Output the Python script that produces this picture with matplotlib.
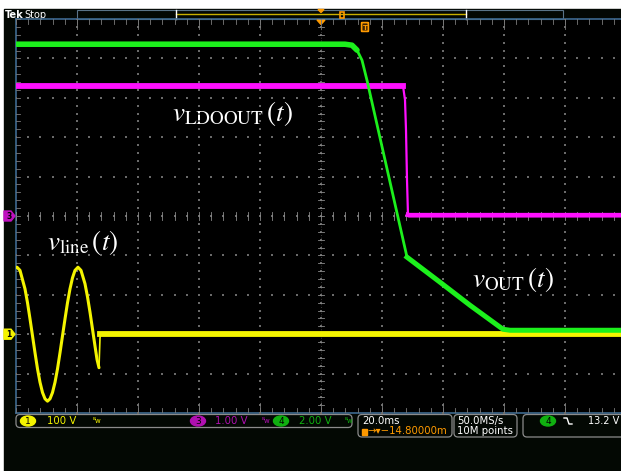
import matplotlib
matplotlib.use("Agg")
import matplotlib.pyplot as plt
from matplotlib.patches import Rectangle, FancyBboxPatch, Ellipse, Polygon
import numpy as np

plt.rcParams['mathtext.fontset'] = 'stix'

# ---------------- data ----------------
# time in ms relative to trigger, 20 ms/div, 10 divisions
t_sine = [-100.0, -99.67, -98.69, -97.05, -96.23, -95.41, -94.59, -93.77, -92.95, -92.13,
          -91.31, -90.49, -89.67, -88.85, -88.03, -87.21, -86.39, -85.57, -84.75, -83.93,
          -83.11, -82.30, -81.48, -80.66, -79.67, -78.69, -77.38, -76.56, -75.74, -74.92,
          -74.10, -73.44, -72.79]
v_sine = [169, 170, 162, 115, 80, 39, -4, -47, -88, -122,
          -148, -164, -170, -164, -148, -122, -88, -47, -4, 39,
          80, 115, 143, 162, 170, 162, 128, 95, 56, 13,
          -30, -64, -85]                  # volts, CH1 100 V/div
t_flat = [-72.79, -72.46, -72.30, 100.0]
v_flat = [-85, -10, 0, 0]

t_ldo = [-100.0, 26.89, 27.54, 27.87, 28.20, 28.52, 28.85, 100.0]
v_ldo = [3.30, 3.30, 2.95, 2.18, 0.91, 0.03, 0.02, 0.02]   # volts, CH3 1 V/div

t_out = [-100.0, 2.95, 7.87, 10.16, 11.80, 13.44, 15.08, 28.20, 39.02, 48.85, 59.67, 62.0, 100.0]
v_out = [14.72, 14.72, 14.72, 14.67, 14.42, 13.91, 12.89, 3.91, 2.64, 1.47, 0.25, 0.20, 0.20]  # volts, CH4 2 V/div

ch_scale = {'1': 100.0, '3': 1.0, '4': 2.0}     # V/div
ch_pos = {'1': -3.0, '3': 0.0, '4': -3.0}       # ground position, div
trig_level = 13.2                               # V on CH4

YEL = '#f4f400'
MAG = '#ff10ff'
GRN = '#1cf01c'
ORG = '#ff9a00'

W, H = 621, 471
fig = plt.figure(figsize=(W / 100, H / 100), dpi=100)
fig.patch.set_facecolor('white')

# ---------------- background / chrome axes (pixel coords) ----------------
bg = fig.add_axes([0, 0, 1, 1])
bg.set_xlim(0, W)
bg.set_ylim(H, 0)
bg.axis('off')
bg.add_patch(Rectangle((4, 9), W, H, color='#030803', zorder=0))
bg.add_patch(Rectangle((16, 19), 610, 394, color='black', zorder=0.5))

# top bar
bg.text(5, 14.5, 'Tek', color='white', fontsize=7, fontweight='bold', va='center', ha='left')
bg.text(24, 14.5, 'Stop', color='white', fontsize=7, va='center', ha='left')
bg.add_patch(Rectangle((77, 9.5), 486, 9.5, fill=False, ec='#5a7488', lw=0.8, zorder=2))
bg.plot([176, 466], [13.5, 13.5], color='#c8b000', lw=1.0, zorder=3)
bg.plot([176, 176], [9.5, 19], color='white', lw=1.0, zorder=3)
bg.plot([466, 466], [9.5, 19], color='white', lw=1.0, zorder=3)
bg.add_patch(Polygon([[318, 9.5], [324, 9.5], [321, 12.5]], color=ORG, zorder=4))
bg.add_patch(Rectangle((340, 12), 4, 6, fill=False, ec=ORG, lw=1.2, zorder=4))

# graticule border
bg.plot([16, W], [19, 19], color='#3e6a90', lw=1.2, zorder=3)
bg.plot([16, W], [413, 413], color='#3e6a90', lw=1.2, zorder=3)
bg.plot([16, 16], [19, 413], color='#3e6a90', lw=1.2, zorder=3)

# ---------------- data axes ----------------
ax = fig.add_axes([16 / W, (H - 413) / H, 610 / W, 394 / H])
ax.set_xlim(-100, 100)
ax.set_ylim(-5, 5)
ax.set_facecolor('none')
ax.axis('off')

# grid dots
gx, gy = [], []
for i in range(1, 10):
    xg = -100 + 20 * i
    for k in range(0, 51):
        gx.append(xg); gy.append(-5 + k * 0.2)
for j in range(1, 10):
    yg = -5 + j
    for k in range(0, 51):
        gx.append(-100 + k * 4); gy.append(yg)
ax.scatter(gx, gy, s=0.6, color='#6a6a6a', marker='s', linewidths=0, zorder=1)

# center-line ticks and border ticks
for k in range(0, 51):
    yk = -5 + k * 0.2
    ax.plot([-0.9, 0.9], [yk, yk], color='#8a8a8a', lw=0.6, zorder=1)
    ax.plot([-100, -98.6], [yk, yk], color='#7a7a7a', lw=0.6, zorder=1)
    xk = -100 + k * 4
    ax.plot([xk, xk], [-0.09, 0.09], color='#8a8a8a', lw=0.6, zorder=1)
    ax.plot([xk, xk], [4.88, 5], color='#7a7a7a', lw=0.6, zorder=1)
    ax.plot([xk, xk], [-5, -4.88], color='#7a7a7a', lw=0.6, zorder=1)
for i in range(1, 10):
    xg = -100 + 20 * i
    ax.plot([xg, xg], [4.75, 5], color='#7a7a7a', lw=0.6, zorder=1)
    ax.plot([xg, xg], [-5, -4.75], color='#7a7a7a', lw=0.6, zorder=1)
ax.plot([0, 0], [-5, 5], color='#707070', lw=0.5, ls=(0, (1, 3)), zorder=1)


def to_div(v, ch):
    return np.asarray(v, dtype=float) / ch_scale[ch] + ch_pos[ch]


# traces
ax.plot(t_sine, to_div(v_sine, '1'), color=YEL, lw=2.2, zorder=5,
        solid_joinstyle='round', solid_capstyle='round')
yf = to_div(v_flat, '1')
ax.plot(t_flat[:3], yf[:3], color=YEL, lw=1.2, zorder=5)
ax.plot(t_flat[2:], yf[2:], color=YEL, lw=4.2, zorder=5)

ym = to_div(v_ldo, '3')
ax.plot(t_ldo[:2], ym[:2], color=MAG, lw=4.2, zorder=4)
ax.plot(t_ldo[1:7], ym[1:7], color=MAG, lw=1.6, zorder=4)
ax.plot(t_ldo[5:], ym[5:], color=MAG, lw=3.4, zorder=4)

yo = to_div(v_out, '4')
ax.plot(t_out[:5], yo[:5], color=GRN, lw=4.0, zorder=6, solid_capstyle='round')
ax.plot(t_out[3:8], yo[3:8], color=GRN, lw=2.0, zorder=6, solid_joinstyle='round')
ax.plot(t_out[7:], yo[7:], color=GRN, lw=3.6, zorder=6, solid_joinstyle='round')

# trigger level marker (right edge, CH4)
yt = trig_level / ch_scale['4'] + ch_pos['4']
ax.scatter([99.6], [yt], s=18, marker='<', color=GRN, zorder=7, clip_on=False)

# trigger position markers
bg.add_patch(Polygon([[317, 20], [325, 20], [321, 24.5]], color=ORG, zorder=8))
bg.add_patch(FancyBboxPatch((362, 23), 6, 8, boxstyle='round,pad=0.4', fc='#3a2000', ec=ORG, lw=1.2, zorder=8))
bg.text(365, 27.5, 'T', color=ORG, fontsize=5, fontweight='bold', ha='center', va='center', zorder=9)

# left channel markers
def left_marker(yc, color, label):
    bg.add_patch(Polygon([[4, yc - 5], [11, yc - 5], [15, yc], [11, yc + 5], [4, yc + 5]],
                         color=color, zorder=8))
    bg.text(9, yc + 0.5, label, color='black', fontsize=5.5, fontweight='bold',
            ha='center', va='center', zorder=9)

left_marker(216 - ch_pos['3'] * 39.4, '#c010c0', '3')
left_marker(216 - ch_pos['1'] * 39.4, YEL, '1')

# annotations
AFS = 19.5
bg.text(172, 121, r'$v_{\mathrm{LDOOUT}}\,(t)$', color='white', fontsize=AFS, ha='left', va='baseline', zorder=10)
bg.text(47, 250, r'$v_{\mathrm{line}}\,(t)$', color='white', fontsize=AFS, ha='left', va='baseline', zorder=10)
bg.text(472, 287, r'$v_{\mathrm{OUT}}\,(t)$', color='white', fontsize=AFS, ha='left', va='baseline', zorder=10)

# ---------------- bottom status bar ----------------
def rbox(x0, y0, w, h):
    bg.add_patch(FancyBboxPatch((x0, y0), w, h, boxstyle='round,pad=0,rounding_size=4',
                                fill=False, ec='#8c8c8c', lw=0.9, zorder=3))

rbox(16, 414.5, 336, 13)
rbox(358, 414.5, 94, 22.5)
rbox(454, 414.5, 63, 22.5)
rbox(523, 414.5, 110, 22.5)

def ch_badge(xc, yc, color, label):
    bg.add_patch(Ellipse((xc, yc), 15, 10, color=color, zorder=4))
    bg.text(xc, yc + 0.3, label, color='black', fontsize=6.5, ha='center', va='center', zorder=5)

FS = 7.3
ch_badge(28, 421, YEL, '1')
bg.text(47, 421, '100 V', color=YEL, fontsize=FS, va='center', ha='left')
bg.text(93, 421, 'ᴮw', color=YEL, fontsize=5, va='center', ha='left')
ch_badge(198, 421, '#b010b0', '3')
bg.text(215, 421, '1.00 V', color='#b010b0', fontsize=FS, va='center', ha='left')
bg.text(262, 421, 'ᴮw', color='#b010b0', fontsize=5, va='center', ha='left')
ch_badge(281, 421, '#10b010', '4')
bg.text(299, 421, '2.00 V', color='#10b010', fontsize=FS, va='center', ha='left')
bg.text(345, 421, 'ᴮw', color='#10b010', fontsize=5, va='center', ha='left')

bg.text(362, 421, '20.0ms', color='white', fontsize=FS, va='center', ha='left')
bg.add_patch(Rectangle((362, 428.5), 5, 6, color=ORG, zorder=4))
bg.text(367, 431.5, '→▾−14.80000m', color=ORG, fontsize=FS, va='center', ha='left')
bg.text(457, 421, '50.0MS/s', color='white', fontsize=FS, va='center', ha='left')
bg.text(457, 431.5, '10M points', color='white', fontsize=FS, va='center', ha='left')
ch_badge(548, 421, '#10b010', '4')
bg.plot([564, 567, 569, 572], [418, 418, 424, 424], color='white', lw=1.0, zorder=4)
bg.text(588, 421, '13.2 V', color='white', fontsize=7.0, va='center', ha='left')

fig.savefig('out.png', dpi=100, facecolor=fig.get_facecolor())
